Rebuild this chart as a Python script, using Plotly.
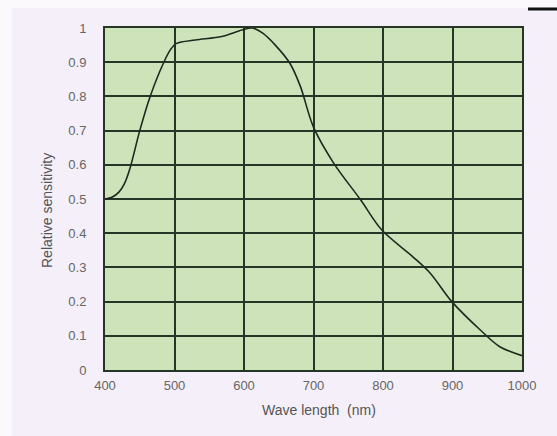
import plotly.graph_objects as go

wavelength = [400, 410, 420, 428, 436, 450, 465, 484, 494, 503, 530, 568, 597, 612, 627, 645, 666, 681, 700, 729, 768, 798, 843, 868, 899, 940, 968, 1000]
sensitivity = [0.50, 0.505, 0.52, 0.545, 0.59, 0.70, 0.80, 0.897, 0.936, 0.955, 0.965, 0.975, 0.994, 1.0, 0.985, 0.95, 0.897, 0.83, 0.71, 0.605, 0.497, 0.41, 0.331, 0.283, 0.20, 0.117, 0.068, 0.042]

x_ticks = [400, 500, 600, 700, 800, 900, 1000]
y_ticks = [0, 0.1, 0.2, 0.3, 0.4, 0.5, 0.6, 0.7, 0.8, 0.9, 1]
y_tick_labels = ["0", "0.1", "0.2", "0.3", "0.4", "0.5", "0.6", "0.7", "0.8", "0.9", "1"]

grid_col = "#263626"
PW, PH = 417, 342

fig = go.Figure()
fig.add_trace(go.Scatter(
    x=wavelength, y=sensitivity, mode="lines",
    line=dict(color="#1f2a1f", width=1.6, shape="spline", smoothing=0.9),
    hoverinfo="skip", showlegend=False,
))

fig.update_layout(
    width=557, height=436,
    margin=dict(l=105, r=35, t=28, b=66),
    paper_bgcolor="#f4eff8",
    plot_bgcolor="#cfe3bb",
    font=dict(family="Liberation Sans, Arial, sans-serif", size=13, color="#666666"),
    xaxis=dict(
        range=[400, 1000], tickvals=x_ticks, ticktext=[str(v) for v in x_ticks],
        showgrid=True, gridcolor=grid_col, gridwidth=2,
        showline=True, linecolor=grid_col, linewidth=2, mirror=True,
        zeroline=False, ticks="", ticklen=0, ticklabelstandoff=2,
        tickfont=dict(size=13, color="#666666"),
    ),
    yaxis=dict(
        range=[0, 1], tickvals=y_ticks, ticktext=y_tick_labels,
        showgrid=True, gridcolor=grid_col, gridwidth=2,
        showline=True, linecolor=grid_col, linewidth=2, mirror=True,
        zeroline=False, ticks="", ticklen=0, ticklabelstandoff=14,
        tickfont=dict(size=13, color="#666666"),
    ),
    annotations=[
        dict(text="Wave length  (nm)", xref="paper", yref="paper",
             x=(319 - 105) / PW, y=-(410 - 370) / PH, xanchor="center", yanchor="middle",
             showarrow=False, font=dict(size=14, color="#555555")),
        dict(text="Relative sensitivity", xref="paper", yref="paper",
             x=-(105 - 47) / PW, y=(370 - 211) / PH, xanchor="center", yanchor="middle",
             textangle=-90, showarrow=False, font=dict(size=14, color="#555555")),
    ],
    shapes=[
        dict(type="rect", xref="paper", yref="paper", x0=-105/PW, x1=-93/PW, y0=-66/PH, y1=28/PH + 1,
             fillcolor="#fbf9fc", line=dict(width=0), layer="below"),
        dict(type="rect", xref="paper", yref="paper", x0=-105/PW, x1=1 + 35/PW, y0=1 + 20/PH, y1=1 + 28/PH,
             fillcolor="#fbf9fc", line=dict(width=0), layer="below"),
        dict(type="line", xref="paper", yref="paper", x0=(528 - 105)/PW, x1=(557 - 105)/PW,
             y0=1 + (28 - 9)/PH, y1=1 + (28 - 9)/PH, line=dict(color="#111111", width=3)),
    ],
)

fig.write_html("out.html")
